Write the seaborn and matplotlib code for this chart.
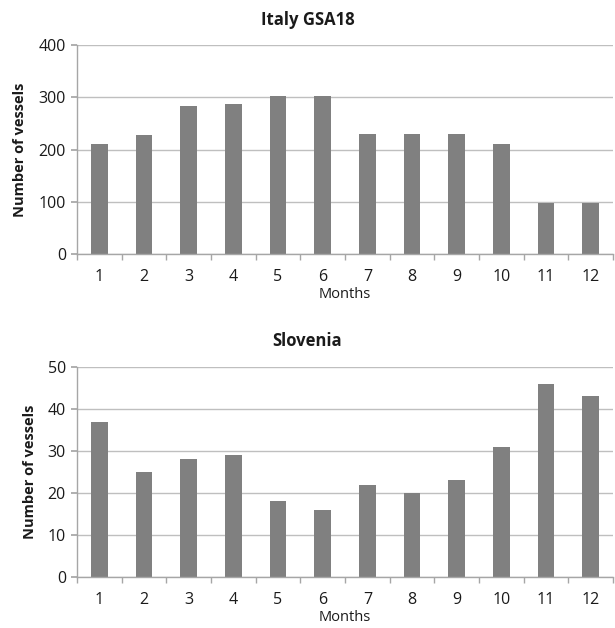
import matplotlib
matplotlib.use("Agg")
import matplotlib.pyplot as plt
import seaborn as sns
import pandas as pd
import numpy as np

months = [str(m) for m in range(1, 13)]
italy_vessels = [210, 228, 284, 287, 303, 303, 229, 229, 229, 210, 97, 97]
slovenia_vessels = [37, 25, 28, 29, 18, 16, 22, 20, 23, 31, 46, 43]

sns.set_theme(style="white")
plt.rcParams['font.family'] = ['Open Sans', 'DejaVu Sans']

W, H = 615, 628
fig = plt.figure(figsize=(W/100, H/100), dpi=100)
ax1 = fig.add_axes([77/W, 1-254/H, 536/W, 209/H])
ax2 = fig.add_axes([77/W, 1-577/H, 536/W, 210/H])

bar_color = "#808080"
grid_color = "#bfbfbf"
axis_color = "#a6a6a6"
text_color = "#1a1a1a"

def draw(ax, vals, title, title_y, ymax, step):
    df = pd.DataFrame({"Months": months, "Number of vessels": vals})
    sns.barplot(data=df, x="Months", y="Number of vessels", ax=ax,
                color=bar_color, saturation=1, width=0.38, edgecolor="none")
    ax.set_xlim(-0.5, 11.5)
    ax.set_ylim(0, ymax)
    ax.set_yticks(np.arange(0, ymax + 1, step))
    ax.yaxis.grid(True, color=grid_color, linewidth=1)
    ax.set_axisbelow(True)
    for s in ["top", "right"]:
        ax.spines[s].set_visible(False)
    for s in ["left", "bottom"]:
        ax.spines[s].set_color(axis_color)
        ax.spines[s].set_linewidth(1)
    ax.set_xticks(np.arange(-0.5, 12, 1), minor=True)
    ax.tick_params(axis="x", which="major", length=0, pad=11, labelsize=11.5, colors=text_color)
    ax.tick_params(axis="x", which="minor", length=4, color=axis_color, direction="out", bottom=True)
    ax.tick_params(axis="y", which="major", length=4, color=axis_color, direction="out", left=True,
                   labelsize=11.5, colors=text_color, pad=4)
    ax.set_xlabel("Months", fontsize=10.5, color=text_color, labelpad=1)
    ax.set_ylabel("Number of vessels", fontsize=10.5, fontweight="bold", color=text_color, labelpad=8)
    fig.text(0.5, 1 - title_y / H, title, fontsize=12, fontweight="bold", color=text_color,
             ha="center", va="center")

draw(ax1, italy_vessels, "Italy GSA18", 20, 400, 100)
draw(ax2, slovenia_vessels, "Slovenia", 341, 50, 10)

fig.savefig("out.png", dpi=100)
